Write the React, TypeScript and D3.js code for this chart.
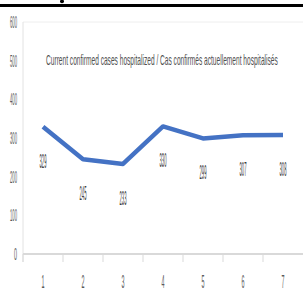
import React, { useEffect, useRef } from "react";
import * as d3 from "d3";

const categories = ["1", "2", "3", "4", "5", "6", "7"];
const hospitalized = [329, 245, 233, 330, 299, 307, 308];
const yTicks = [0, 100, 200, 300, 400, 500, 600];
const title = "Current confirmed cases hospitalized / Cas confirmés actuellement hospitalisés";

const W = 303;
const H = 293;
const font = "Liberation Sans, Arial, sans-serif";

// squeeze a text horizontally to a given width (the chart is stretched tall)
function squeeze(sel: any, width: (d: any) => number, px: (d: any) => number, py: (d: any) => number) {
  sel.each(function (this: SVGTextElement, d: any) {
    const len = this.getComputedTextLength() || 1;
    d3.select(this)
      .attr("x", 0)
      .attr("y", 0)
      .attr("transform", `translate(${px(d)},${py(d)}) scale(${width(d) / len},1)`);
  });
}

const App = () => {
  const ref = useRef<SVGSVGElement>(null);

  useEffect(() => {
    const svg = d3.select(ref.current);
    svg.selectAll("*").remove();

    const left = 23;
    const right = 303;
    const top = 22;
    const bottom = 254;

    const x = d3.scaleBand().domain(categories).range([left, left + 40 * 7]);
    const y = d3.scaleLinear().domain([0, 600]).range([bottom, top]);

    // black strip at the very top (cut off header above the chart)
    svg.append("rect").attr("x", 0).attr("y", 4).attr("width", W).attr("height", 3).attr("fill", "#000");
    svg.append("ellipse").attr("cx", 62).attr("cy", 1.5).attr("rx", 2).attr("ry", 1.8).attr("fill", "#000");

    // top plot border
    svg
      .append("line")
      .attr("x1", left)
      .attr("x2", right)
      .attr("y1", y(600))
      .attr("y2", y(600))
      .attr("stroke", "#eeeeee");

    // y axis line
    svg
      .append("line")
      .attr("x1", left)
      .attr("x2", left)
      .attr("y1", y(600))
      .attr("y2", bottom + 8)
      .attr("stroke", "#e2e2e2");

    // x axis
    svg
      .append("line")
      .attr("x1", left)
      .attr("x2", right)
      .attr("y1", bottom)
      .attr("y2", bottom)
      .attr("stroke", "#d9d9d9")
      .attr("stroke-width", 2);

    svg
      .append("g")
      .selectAll("line")
      .data(categories)
      .join("line")
      .attr("x1", (d) => x(d)!)
      .attr("x2", (d) => x(d)!)
      .attr("y1", bottom)
      .attr("y2", bottom + 8)
      .attr("stroke", "#d9d9d9");

    // y labels
    svg
      .append("g")
      .selectAll("text")
      .data(yTicks)
      .join("text")
      .attr("text-anchor", "end")
      .attr("font-family", font)
      .attr("font-size", 16)
      .attr("fill", "#595959")
      .text((d) => d)
      .call(squeeze, (d: number) => (String(d).length === 1 ? 3 : 7), () => 17, (d: number) => y(d) + 6);

    // x labels
    svg
      .append("g")
      .selectAll("text")
      .data(categories)
      .join("text")
      .attr("text-anchor", "middle")
      .attr("font-family", font)
      .attr("font-size", 19)
      .attr("fill", "#595959")
      .text((d) => d)
      .call(squeeze, () => 3, (d: string) => x(d)! + x.bandwidth() / 2, () => 288);

    // title
    svg
      .append("text")
      .datum(title)
      .attr("font-family", font)
      .attr("font-size", 15)
      .attr("fill", "#505050")
      .text((d) => d)
      .call(squeeze, () => 232, () => 46, () => 65);

    // line
    const line = d3
      .line<number>()
      .x((d, i) => x(categories[i])! + x.bandwidth() / 2)
      .y((d) => y(d));

    svg
      .append("path")
      .datum(hospitalized)
      .attr("d", line)
      .attr("fill", "none")
      .attr("stroke", "#4472c4")
      .attr("stroke-width", 4.5)
      .attr("stroke-linejoin", "round");

    // data labels
    svg
      .append("g")
      .selectAll("text")
      .data(hospitalized.map((v, i) => ({ v, c: categories[i] })))
      .join("text")
      .attr("text-anchor", "middle")
      .attr("font-family", font)
      .attr("font-size", 20)
      .attr("fill", "#404040")
      .text((d) => d.v)
      .call(
        squeeze,
        () => 7,
        (d: any) => x(d.c)! + x.bandwidth() / 2,
        (d: any) => y(d.v) + 41
      );
  }, []);

  return (
    <svg
      ref={ref}
      width={W}
      height={H}
      style={{ position: "absolute", left: 0, top: 0, background: "#fff" }}
    ></svg>
  );
};

export default App;
